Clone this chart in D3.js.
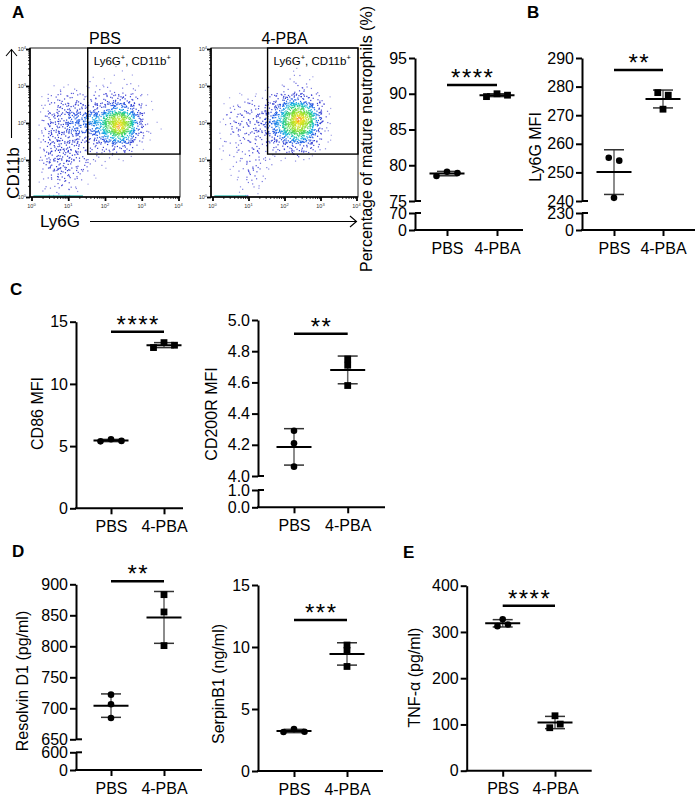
<!DOCTYPE html>
<html><head><meta charset="utf-8">
<script src="https://cdn.jsdelivr.net/npm/d3@7"></script>
<style>
body{margin:0;background:#fff}
svg{display:block}
text{font-family:'Liberation Sans',Arial,Helvetica,sans-serif;fill:#000}
</style>
</head><body>
<svg id="fig" width="698" height="797"></svg>
<script>
// ---------------- DATA ----------------
const groups = ["PBS", "4-PBA"];
const flowTitles = ["PBS", "4-PBA"];
const flowDecades = [0, 1, 2, 3, 4];
const gateFrom = [1.53, 1.16];            // gate lower-left corner (log10 Ly6G, log10 CD11b)
// density grids, rows = CD11b decade bins from 4.0 (top) to 0 (bottom), cols = Ly6G decade bins 0 -> 4 (0.25 each)
const pbsDensity = [
  "0000000000000000",
  "0000000000000000",
  "0000000001000000",
  "0000001010100000",
  "0011111111110000",
  "0122222233321000",
  "0123333345431000",
  "0233445578741000",
  "0233444579741100",
  "0233333456531000",
  "0233322233310000",
  "0233321111100000",
  "0233221100000000",
  "0123211000000000",
  "0112110000000000",
  "0111100000000000"
];
const pbaDensity = [
  "0000000000000000",
  "0000000000000000",
  "0000000001000000",
  "0000000011100000",
  "0000001112110000",
  "0011112344321000",
  "0112223467641000",
  "0122234579852000",
  "0122234578741000",
  "0112223456531000",
  "0111212233321000",
  "0111211112100000",
  "0011211000000000",
  "0011210000000000",
  "0001110000000000",
  "0001100000000000"
];
const levelCounts = [0, 3, 7, 13, 22, 32, 44, 56, 68, 80];
const pbsAxisPile = [0.05, 1.4];
const pbaAxisPile = [0.05, 0.95];

const matureNeutPBS = [78.5, 79.1, 78.9];
const matureNeut4PBA = [89.6, 90.0, 89.8];
const ly6gPBS = [255.1, 254.1, 241.1];
const ly6g4PBA = [277.9, 277.0, 272.1];
const cd86PBS = [5.38, 5.55, 5.42];
const cd864PBA = [12.92, 13.32, 13.11];
const cd200rPBS = [4.29, 4.21, 4.06];
const cd200r4PBA = [4.75, 4.71, 4.58];
const resolvinPBS = [722, 706.5, 684.4];
const resolvin4PBA = [883.3, 855.4, 801.1];
const serpinPBS = [3.14, 3.38, 3.16];
const serpin4PBA = [10.16, 9.73, 8.43];
const tnfPBS = [327.6, 312.5, 316];
const tnf4PBA = [118.8, 92.9, 100.8];

const ticksMature = [[75, 80, 85, 90, 95], [0, 70]];
const ticksLy6g = [[240, 250, 260, 270, 280, 290], [0, 230]];
const ticksCd86 = [[0, 5, 10, 15], []];
const ticksCd200r = [[4.0, 4.2, 4.4, 4.6, 4.8, 5.0], [0.0, 1.0]];
const ticksResolvin = [[650, 700, 750, 800, 850, 900], [0, 600]];
const ticksSerpin = [[0, 5, 10, 15], []];
const ticksTnf = [[0, 100, 200, 300, 400], []];

const stars = ["****", "**", "****", "**", "**", "***", "****"];
const yTitles = ["Percentage of mature neutrophils (%)", "Ly6G MFI", "CD86 MFI", "CD200R MFI",
                 "Resolvin D1 (pg/ml)", "SerpinB1 (ng/ml)", "TNF-\u03B1 (pg/ml)"];
const panelLetters = ["A", "B", "C", "D", "E"];

// ---------------- DRAW ----------------
const FONT = "'Liberation Sans', Arial, Helvetica, sans-serif";
const svg = d3.select("#fig");
svg.append("rect").attr("width", 698).attr("height", 797).attr("fill", "#fff");

const letterPos = [[12, 18], [527, 18], [10, 295], [12, 557], [403, 558]];
panelLetters.forEach((l, i) => {
  svg.append("text").attr("x", letterPos[i][0]).attr("y", letterPos[i][1])
    .attr("font-size", 17).attr("font-weight", "bold").text(l);
});

// ---------- Flow plots ----------
const dotColor = d3.scaleLinear()
  .domain([0.3, 1.5, 3, 4.2, 5.2, 6.2, 7.3, 8.4, 9.1])
  .range(["#a8a8e8", "#5050d8", "#2a36d0", "#1a60e8", "#10b8e0", "#30d070", "#90e030", "#f0e020", "#ff2a00"])
  .clamp(true);

function halton(i, b) { let f = 1, r = 0; while (i > 0) { f /= b; r += f * (i % b); i = Math.floor(i / b); } return r; }

function flowPlot(x0, x1, yTop, yBot, grid, pile, title, seqStart) {
  const g = svg.append("g");
  const xs = d3.scaleLog().domain([1, 1e4]).range([x0 + 1.5, x1 - 1.5]);
  const ys = d3.scaleLog().domain([1, 1e4]).range([yBot, yTop + 1]);
  const nR = grid.length, nC = grid[0].length;
  const bw = 4 / nC, bh = 4 / nR;
  const lv = (r, c) => {
    r = Math.max(0, Math.min(nR - 1, r)); c = Math.max(0, Math.min(nC - 1, c));
    return +grid[r][c];
  };
  function dens(dx, dy) {
    const gc = dx / bw - 0.5, gr = (4 - dy) / bh - 0.5;
    const c0 = Math.floor(gc), r0 = Math.floor(gr);
    const fc = gc - c0, fr = gr - r0;
    return lv(r0, c0) * (1 - fc) * (1 - fr) + lv(r0, c0 + 1) * fc * (1 - fr) +
           lv(r0 + 1, c0) * (1 - fc) * fr + lv(r0 + 1, c0 + 1) * fc * fr;
  }
  const pts = [];
  let seq = seqStart;
  grid.forEach((row, r) => {
    row.split("").forEach((ch, c) => {
      const n = levelCounts[+ch];
      for (let k = 0; k < n; k++) {
        seq++;
        const u = halton(seq, 2), v = halton(seq, 3);
        let dx = (c + u * 1.4 - 0.2) * bw;
        let dy = 4 - (r + v * 1.4 - 0.2) * bh;
        dx = Math.max(0.03, Math.min(3.97, dx));
        dy = Math.max(0.04, Math.min(3.97, dy));
        pts.push({ x: xs(Math.pow(10, dx)), y: ys(Math.pow(10, dy)), d: dens(dx, dy) });
      }
    });
  });
  pts.sort((a, b) => a.d - b.d);
  g.append("g").selectAll("rect").data(pts).join("rect")
    .attr("x", d => d.x - 0.6).attr("y", d => d.y - 0.6)
    .attr("width", 1.2).attr("height", 1.2)
    .attr("fill", d => dotColor(d.d));
  g.append("line").attr("x1", xs(Math.pow(10, pile[0]))).attr("x2", xs(Math.pow(10, pile[1])))
    .attr("y1", yBot - 1).attr("y2", yBot - 1)
    .attr("stroke", "#48c0b8").attr("stroke-width", 1.6);
  g.append("rect").attr("x", x0).attr("y", yTop).attr("width", x1 - x0).attr("height", yBot - yTop)
    .attr("fill", "none").attr("stroke", "#222").attr("stroke-width", 1);
  g.append("line").attr("x1", x0).attr("x2", x0).attr("y1", yTop).attr("y2", yBot)
    .attr("stroke", "#000").attr("stroke-width", 1.6);
  g.append("line").attr("x1", x0).attr("x2", x1).attr("y1", yBot).attr("y2", yBot)
    .attr("stroke", "#000").attr("stroke-width", 1.6);
  const minor = [];
  for (let k = 0; k < 4; k++) for (let m = 2; m <= 9; m++) minor.push(m * Math.pow(10, k));
  g.append("g").attr("transform", `translate(0,${yBot})`)
    .call(d3.axisBottom(xs).tickValues(minor).tickSize(2).tickFormat(""))
    .call(a => a.select(".domain").remove())
    .call(a => a.selectAll("line").attr("stroke", "#000").attr("stroke-width", 0.8));
  g.append("g").attr("transform", `translate(0,${yBot})`)
    .call(d3.axisBottom(xs).tickValues(flowDecades.map(d => Math.pow(10, d))).tickSize(4).tickFormat(""))
    .call(a => a.select(".domain").remove())
    .call(a => a.selectAll("line").attr("stroke", "#000").attr("stroke-width", 1.8));
  g.append("g").attr("transform", `translate(${x0},0)`)
    .call(d3.axisLeft(ys).tickValues(minor).tickSize(2).tickFormat(""))
    .call(a => a.select(".domain").remove())
    .call(a => a.selectAll("line").attr("stroke", "#000").attr("stroke-width", 0.8));
  g.append("g").attr("transform", `translate(${x0},0)`)
    .call(d3.axisLeft(ys).tickValues(flowDecades.map(d => Math.pow(10, d))).tickSize(4).tickFormat(""))
    .call(a => a.select(".domain").remove())
    .call(a => a.selectAll("line").attr("stroke", "#000").attr("stroke-width", 1.8));
  flowDecades.forEach(k => {
    const tx = g.append("text").attr("x", xs(Math.pow(10, k))).attr("y", yBot + 11)
      .attr("text-anchor", "middle").attr("font-size", 5.5).style("fill", "#333");
    tx.append("tspan").text("10");
    tx.append("tspan").attr("dy", -2.5).attr("font-size", 4).text(k);
    const ty = g.append("text").attr("x", x0 - 4).attr("y", ys(Math.pow(10, k)) + 2)
      .attr("text-anchor", "end").attr("font-size", 5.5).style("fill", "#333");
    ty.append("tspan").text("10");
    ty.append("tspan").attr("dy", -2.5).attr("font-size", 4).text(k);
  });
  const gx = xs(Math.pow(10, gateFrom[0])), gy = ys(Math.pow(10, gateFrom[1]));
  g.append("rect").attr("x", gx).attr("y", yTop).attr("width", x1 - gx).attr("height", gy - yTop)
    .attr("fill", "none").attr("stroke", "#000").attr("stroke-width", 1.4);
  const gl = g.append("text").attr("x", gx + 6).attr("y", yTop + 16.5).attr("font-size", 11.5);
  gl.append("tspan").text("Ly6G");
  gl.append("tspan").attr("dy", -4.5).attr("font-size", 7.5).text("+");
  gl.append("tspan").attr("dy", 4.5).text(", CD11b");
  gl.append("tspan").attr("dy", -4.5).attr("font-size", 7.5).text("+");
  g.append("text").attr("x", (x0 + x1) / 2).attr("y", yTop - 4).attr("text-anchor", "middle")
    .attr("font-size", 16).text(title);
}

flowPlot(30, 180, 48, 197, pbsDensity, pbsAxisPile, flowTitles[0], 17);
flowPlot(211, 358, 48, 197, pbaDensity, pbaAxisPile, flowTitles[1], 7011);

svg.append("line").attr("x1", 11.5).attr("x2", 11.5).attr("y1", 138).attr("y2", 49.5)
  .attr("stroke", "#000").attr("stroke-width", 1.1);
svg.append("polyline").attr("points", "6,56 11.5,49.5 17,56").attr("fill", "none")
  .attr("stroke", "#000").attr("stroke-width", 1.1);
svg.append("text").attr("transform", "translate(19,173) rotate(-90)").attr("text-anchor", "middle")
  .attr("font-size", 17).text("CD11b");
svg.append("line").attr("x1", 90).attr("x2", 356.5).attr("y1", 221.5).attr("y2", 221.5)
  .attr("stroke", "#000").attr("stroke-width", 1.1);
svg.append("polyline").attr("points", "350,216 356.5,221.5 350,227").attr("fill", "none")
  .attr("stroke", "#000").attr("stroke-width", 1.1);
svg.append("text").attr("x", 40).attr("y", 227).attr("font-size", 17).text("Ly6G");

// ---------- scatter (mean ± SD) panels ----------
function offsets(ys) {
  const idx = ys.map((_, i) => i).sort((a, b) => ys[a] - ys[b]);
  const res = ys.map(() => 0);
  let cl = [idx[0]];
  const flush = () => {
    const m = cl.slice().sort((a, b) => a - b);
    m.forEach((i, j) => { res[i] = (j - (m.length - 1) / 2) * 10.5; });
  };
  for (let k = 1; k < idx.length; k++) {
    if (ys[idx[k]] - ys[idx[k - 1]] < 4.5) cl.push(idx[k]);
    else { flush(); cl = [idx[k]]; }
  }
  flush();
  return res;
}

function panel(cfg) {
  const g = svg.append("g");
  const fmt = cfg.fmt || d3.format("d");
  const yU = d3.scaleLinear().domain(cfg.upper[0]).range(cfg.upper[1]);
  const styleAxis = a => {
    a.selectAll("path,line").attr("stroke", "#000").attr("stroke-width", 2);
    a.selectAll("text").attr("font-size", 16).attr("font-family", FONT).attr("fill", "#000");
  };
  g.append("g").attr("transform", `translate(${cfg.ax},0)`)
    .call(d3.axisLeft(yU).tickValues(cfg.ticks[0]).tickFormat(fmt).tickSize(6).tickSizeOuter(0).tickPadding(2))
    .call(styleAxis);
  let y0 = cfg.upper[1][0];
  if (cfg.lower) {
    const yL = d3.scaleLinear().domain(cfg.lower[0]).range(cfg.lower[1]);
    g.append("g").attr("transform", `translate(${cfg.ax},0)`)
      .call(d3.axisLeft(yL).tickValues(cfg.ticks[1]).tickFormat(fmt).tickSize(6).tickSizeOuter(0).tickPadding(2))
      .call(styleAxis);
    y0 = cfg.lower[1][0];
    [cfg.upper[1][0], cfg.lower[1][1]].forEach(yb => {
      g.append("line").attr("x1", cfg.ax).attr("x2", cfg.ax + 6).attr("y1", yb).attr("y2", yb)
        .attr("stroke", "#000").attr("stroke-width", 2);
    });
  }
  const xP = d3.scalePoint().domain(groups).range(cfg.cats);
  g.append("line").attr("x1", cfg.ax - 1).attr("x2", cfg.xEnd).attr("y1", y0).attr("y2", y0)
    .attr("stroke", "#000").attr("stroke-width", 2);
  const xa = g.append("g").attr("transform", `translate(0,${y0})`)
    .call(d3.axisBottom(xP).tickSize(6).tickSizeOuter(0).tickPadding(7))
    .call(a => a.select(".domain").remove())
    .call(styleAxis);
  xa.selectAll("text").attr("dy", null).attr("y", 23.5);

  [cfg.data[0], cfg.data[1]].forEach((vals, gi) => {
    const cx = xP(groups[gi]);
    const mean = d3.mean(vals), sd = d3.deviation(vals);
    g.append("line").attr("x1", cx).attr("x2", cx).attr("y1", yU(mean - sd)).attr("y2", yU(mean + sd))
      .attr("stroke", "#666").attr("stroke-width", 1.5);
    [mean - sd, mean + sd].forEach(v => {
      g.append("line").attr("x1", cx - 10).attr("x2", cx + 10).attr("y1", yU(v)).attr("y2", yU(v))
        .attr("stroke", "#333").attr("stroke-width", 1.5);
    });
    g.append("line").attr("x1", cx - 17.5).attr("x2", cx + 17.5).attr("y1", yU(mean)).attr("y2", yU(mean))
      .attr("stroke", "#000").attr("stroke-width", 2);
    const off = offsets(vals.map(v => yU(v)));
    if (gi === 0) {
      g.append("g").selectAll("circle").data(vals).join("circle")
        .attr("cx", (d, i) => cx + off[i]).attr("cy", d => yU(d)).attr("r", 3.3).attr("fill", "#000");
    } else {
      g.append("g").selectAll("rect").data(vals).join("rect")
        .attr("x", (d, i) => cx + off[i] - 3.4).attr("y", d => yU(d) - 3.4)
        .attr("width", 6.8).attr("height", 6.8).attr("fill", "#000");
    }
  });
  g.append("line").attr("x1", cfg.cats[0]).attr("x2", cfg.cats[1]).attr("y1", cfg.barY).attr("y2", cfg.barY)
    .attr("stroke", "#000").attr("stroke-width", 2.5);
  g.append("text").attr("x", (cfg.cats[0] + cfg.cats[1]) / 2 + 0.75).attr("y", cfg.barY + 0.8)
    .attr("text-anchor", "middle").attr("font-size", 24).attr("letter-spacing", 1.5).text(cfg.sig);
  g.append("text").attr("transform", `translate(${cfg.tx},${cfg.ty}) rotate(-90)`)
    .attr("text-anchor", "middle").attr("font-size", 16).text(cfg.title);
}

panel({ ax: 415, xEnd: 523, upper: [[75, 95], [201, 58]], lower: [[0, 70], [230, 213]],
  ticks: ticksMature, cats: [447, 497], data: [matureNeutPBS, matureNeut4PBA],
  sig: stars[0], barY: 85, title: yTitles[0], tx: 372, ty: 139 });
panel({ ax: 582, xEnd: 695, upper: [[240, 290], [201, 58]], lower: [[0, 230], [230, 213]],
  ticks: ticksLy6g, cats: [614, 663], data: [ly6gPBS, ly6g4PBA],
  sig: stars[1], barY: 70, title: yTitles[1], tx: 541, ty: 147 });
panel({ ax: 76, xEnd: 183, upper: [[0, 15], [508.3, 321.7]],
  ticks: ticksCd86, cats: [111, 164], data: [cd86PBS, cd864PBA],
  sig: stars[2], barY: 331.7, title: yTitles[2], tx: 43, ty: 413.5 });
panel({ ax: 258, xEnd: 385, upper: [[4.0, 5.0], [476, 320]], lower: [[0, 1.0], [507.3, 490]],
  ticks: ticksCd200r, cats: [294, 347.7], data: [cd200rPBS, cd200r4PBA], fmt: d3.format(".1f"),
  sig: stars[3], barY: 333.7, title: yTitles[3], tx: 217, ty: 414 });
panel({ ax: 76, xEnd: 202, upper: [[650, 900], [739.3, 584.3]], lower: [[0, 600], [770, 752.3]],
  ticks: ticksResolvin, cats: [111, 164], data: [resolvinPBS, resolvin4PBA],
  sig: stars[4], barY: 581.3, title: yTitles[4], tx: 28, ty: 681 });
panel({ ax: 258, xEnd: 383, upper: [[0, 15], [771, 585]],
  ticks: ticksSerpin, cats: [294, 347], data: [serpinPBS, serpin4PBA],
  sig: stars[5], barY: 620, title: yTitles[5], tx: 224, ty: 684 });
panel({ ax: 466.7, xEnd: 591.7, upper: [[0, 400], [770.7, 585.7]],
  ticks: ticksTnf, cats: [502.7, 555], data: [tnfPBS, tnf4PBA],
  sig: stars[6], barY: 605.7, title: yTitles[6], tx: 420, ty: 677.5 });
</script>
</body></html>
